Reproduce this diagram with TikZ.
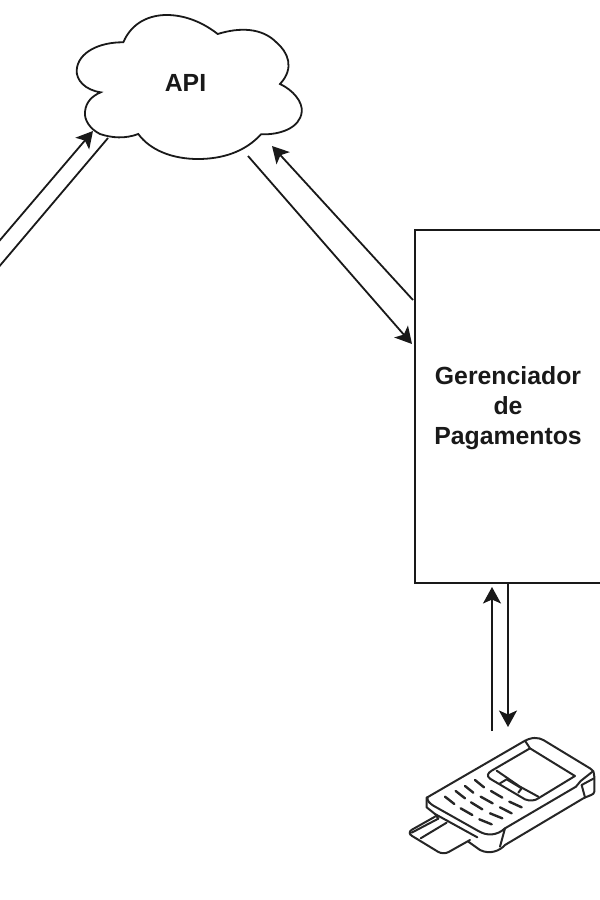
\documentclass[tikz,border=0pt]{standalone}
\usepackage{fontspec}
\setmainfont{Liberation Sans}
\usetikzlibrary{arrows.meta}
\tikzset{
  x=1pt,y=-1pt,
  link/.style={draw=black!90,line width=1.8pt,-{Stealth[length=16.5pt,width=18pt,inset=4pt]}},
  plain/.style={draw=black!90,line width=1.8pt},
  label/.style={font=\bfseries\fontsize{24.8}{30}\selectfont,align=center,text=black!90},
  sketch/.style={line width=2pt,line cap=round,line join=round,draw=black!85},
  keydash/.style={line width=2.4pt,line cap=round,draw=black!85},
}
\begin{document}
\begin{tikzpicture}
\useasboundingbox (0,0) rectangle (600,900);
\clip (0,0) rectangle (600,900);
% cloud
\draw[line width=1.8pt,draw=black!90]
  (123.3,42.3) .. controls (132,22) and (150,15) .. (166.7,15)
  .. controls (187,15) and (205,24) .. (217.7,34)
  .. controls (240,27) and (262,28) .. (276,42)
  .. controls (288,52) and (295,68) .. (280,84)
  .. controls (293,90) and (303,102) .. (301.7,112)
  .. controls (300,128) and (280,135) .. (261,134.3)
  .. controls (245,152) and (222,159) .. (198,159)
  .. controls (172,159) and (150,150) .. (138.3,134)
  .. controls (125,139) and (112,138) .. (100,134)
  .. controls (90,129) and (84,120) .. (85,111.7)
  .. controls (86,102) and (92,96) .. (100.7,92.3)
  .. controls (85,90) and (76,80) .. (76.7,70)
  .. controls (78,52) and (100,42) .. (123.3,42.3) -- cycle;
\node[label,inner sep=0pt] (api) at (185.5,83) {API};
% manager box
\node[draw=black!90,line width=2pt,minimum width=186pt,minimum height=353pt,inner sep=0pt,outer sep=0pt,anchor=north west] (gp) at (415,230) {};
\node[label,inner sep=0pt] (gptext) at (508,408) {Gerenciador\\de\\Pagamentos};
% connector ends
\coordinate (c1) at (-8,249.5);
\coordinate (c2) at (93,131);
\coordinate (c3) at (108,138);
\coordinate (c4) at (-8,275);
\coordinate (c5) at (413,300);
\coordinate (c6) at (272,146);
\coordinate (c7) at (248,156);
\coordinate (c8) at (412,344);
\coordinate (c9) at (492,731);
\coordinate (c10) at (492,587);
\coordinate (c11) at (508,583);
\coordinate (c12) at (508,727);
\draw[link] (c1) -- (c2);
\draw[plain] (c3) -- (c4);
\draw[link] (c5) -- (c6);
\draw[link] (c7) -- (c8);
\draw[link] (c9) -- (c10);
\draw[link] (c11) -- (c12);
% payment terminal
\begin{scope}[shift={(390,700)},x=0.3333pt,y=-0.3333pt]
\draw[sketch] (112,292) -- (400,125) .. controls (425,110) and (445,112) .. (460,120)
  -- (600,205) .. controls (612,213) and (613,220) .. (613,230) -- (613,275)
  .. controls (612,285) and (600,285) .. (580,295) -- (345,435)
  .. controls (330,452) and (300,465) .. (270,450) -- (235,425);
\draw[sketch] (112,292) .. controls (112,305) and (120,310) .. (130,317) -- (265,393)
  .. controls (290,408) and (320,408) .. (345,385) -- (558,260) -- (572,243) -- (610,213);
\draw[sketch] (110,292) -- (110,322) -- (135,342) -- (262,412);
\draw[sketch] (345,385) -- (330,440);
% card
\draw[sketch,rounded corners=6pt] (135,350) -- (50,398) -- (160,465) -- (240,420);
\draw[sketch] (145,356) -- (65,398);
\draw[sketch] (170,368) -- (92,415);
\draw[sketch] (135,342) -- (145,356);
% screen and soft keys
\draw[sketch] (405,122) -- (420,145) -- (555,228) -- (445,295);
\draw[sketch] (420,145) -- (305,212) .. controls (292,220) and (290,228) .. (300,236)
  -- (405,298) .. controls (420,304) and (435,302) .. (445,295);
\draw[sketch] (320,212) -- (390,260) -- (445,290);
\draw[sketch] (330,250) -- (350,238) -- (395,265) -- (385,278);
\draw[sketch] (575,255) -- (585,292);
\draw[sketch] (575,255) -- (612,235);
% keypad
\foreach \a/\b/\c/\d in {165/290/193/312,197/273/225/295,225/258/250/278,255/240/282/262,
  212/325/247/345,243/307/277/328,272/290/308/310,303/273/337/293,
  268/358/305/373,300/340/337/355,330/322/365/340,358/305/395/322}
  \draw[keydash] (\a,\b) -- (\c,\d);
\end{scope}
\end{tikzpicture}
\end{document}
